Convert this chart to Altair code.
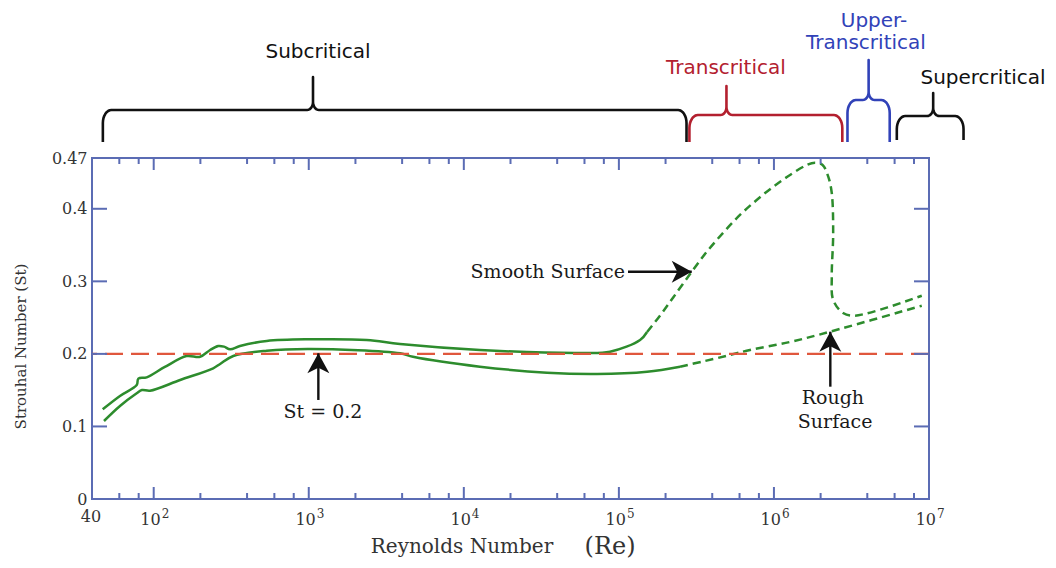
import numpy as np
import pandas as pd
import altair as alt

# ---------------- data ----------------
# upper curve (solid part, becomes "Smooth Surface")
smooth_solid_re = [46.9, 60.6, 77.7, 79.6, 90.1, 118, 163, 199, 231, 261, 284, 311, 360,
                   536, 1020, 2360, 3880, 12700, 56200, 87700, 137000, 152000]
smooth_solid_st = [0.1236, 0.142, 0.157, 0.166, 0.1677, 0.182, 0.197, 0.196, 0.2054, 0.2109,
                   0.210, 0.2063, 0.2109, 0.2178, 0.2201, 0.2192, 0.2136, 0.2054, 0.2012,
                   0.2030, 0.2192, 0.2302]
# smooth surface, dashed part
smooth_dash_re = [152000, 184000, 224000, 295000, 368000, 472000, 604000, 774000, 991000,
                  1.27e6, 1.63e6, 1.84e6, 2.06e6, 2.24e6, 2.36e6, 2.41e6, 2.36e6, 2.41e6,
                  2.79e6, 3.33e6, 8.98e6]
smooth_dash_st = [0.2302, 0.2526, 0.2777, 0.3133, 0.3405, 0.3673, 0.3915, 0.4121, 0.4305,
                  0.4466, 0.4604, 0.4635, 0.4604, 0.4443, 0.4218, 0.3666, 0.3064, 0.2743,
                  0.2564, 0.2527, 0.2802]
# lower curve (solid part, becomes "Rough Surface")
rough_solid_re = [47.8, 60.6, 77.7, 84.0, 94.7, 148, 242, 268, 326, 536, 1020, 3880, 4700,
                  12700, 34400, 72300, 152000, 248000]
rough_solid_st = [0.1075, 0.1282, 0.1457, 0.1502, 0.1493, 0.1640, 0.1802, 0.1861, 0.1971,
                  0.2044, 0.2068, 0.2008, 0.1961, 0.1824, 0.1741, 0.1723, 0.1755, 0.1824]
# rough surface, dashed part
rough_dash_re = [248000, 359000, 521000, 701000, 1.27e6, 2.30e6, 8.98e6]
rough_dash_st = [0.1824, 0.1902, 0.1985, 0.2054, 0.2164, 0.2306, 0.2664]

st_reference = [0.2]

# axes
x_major_ticks = [1e2, 1e3, 1e4, 1e5, 1e6]
x_minor_ticks = [60, 80, 200, 400, 600, 800, 2e3, 4e3, 6e3, 8e3, 2e4, 4e4, 6e4, 8e4,
                 2e5, 4e5, 6e5, 8e5, 2e6, 4e6, 6e6, 8e6]
x_label_values = [1e2, 1e3, 1e4, 1e5, 1e6, 1e7]
x_label_base = ["10", "10", "10", "10", "10", "10"]
x_label_exp = ["2", "3", "4", "5", "6", "7"]
x_first_label = ["40"]
x_first_value = [40]
y_major_ticks = [0.1, 0.2, 0.3, 0.4]
y_label_values = [0, 0.1, 0.2, 0.3, 0.4, 0.47]

# flow regimes (brackets above the plot)
regime_names = ["Subcritical", "Transcritical", "Upper-Transcritical", "Supercritical"]
regime_start_re = [47, 2.85e5, 2.98e6, 6.2e6]
regime_end_re = [2.73e5, 2.76e6, 5.58e6, 1.67e7]
regime_peak_re = [1065, 4.94e5, 4.08e6, 1.064e7]
bracket_base_st = [0.4921, 0.4921, 0.4921, 0.4948]
bracket_bar_st = [0.5362, 0.5293, 0.55, 0.5279]
bracket_tip_st = [0.5817, 0.5693, 0.6051, 0.5596]

regime_label_text = ["Subcritical", "Transcritical", "Upper-", "Transcritical", "Supercritical"]
regime_label_group = ["Subcritical", "Transcritical", "Upper-Transcritical",
                      "Upper-Transcritical", "Supercritical"]
regime_label_re = [1147, 4.9e5, 4.42e6, 3.92e6, 2.23e7]
regime_label_st = [0.6161, 0.594, 0.6589, 0.6285, 0.5803]

# annotations
arrow_tip_re = [1153, 2.95e5, 2.31e6]
arrow_tip_st = [0.2008, 0.3133, 0.2306]
arrow_tail_re = [1153, 1.145e5, 2.31e6]
arrow_tail_st = [0.1365, 0.3133, 0.1548]
arrow_angle = [0, 90, 0]

note_text = ["St = 0.2", "Rough", "Surface"]
note_re = [1236, 2.40e6, 2.48e6]
note_st = [0.1203, 0.1392, 0.1066]
smooth_note = ["Smooth Surface"]

x_title_text = ["Reynolds Number"]
x_title_re = [9730]
x_title_sub = ["(Re)"]
x_title_sub_re = [87660]
x_title_st = [-0.0665]

# ---------------- styles ----------------
W, H = 837, 341
SERIF = "DejaVu Serif"
SANS = "DejaVu Sans"
FRAME = "#5b6cb4"
GREEN = "#2d8c2d"
RED = "#e0573d"
REGIME_COLORS = ["#111111", "#b3202f", "#3142b8", "#111111"]

xs = alt.Scale(type="log", domain=[40, 1e7], nice=False)
ys = alt.Scale(domain=[0, 0.47], nice=False, zero=False)
yaxis = alt.Axis(values=y_label_values, format=".2~f", ticks=False, domain=False, grid=False,
                 labelFont=SERIF, labelFontSize=16, labelColor="#333", labelPadding=5,
                 labelFlush=False, title="Strouhal Number (St)", titleFont=SERIF,
                 titleFontSize=15, titleFontWeight="normal", titleColor="#333",
                 titleX=-72, titleY=188, titleAngle=270, titleAlign="center",
                 titleBaseline="middle")


def X(f="re"):
    return alt.X(f"{f}:Q", scale=xs, axis=None)


def Y(f="st"):
    return alt.Y(f"{f}:Q", scale=ys, axis=yaxis)


def curve_df(re_list, st_list, name):
    return pd.DataFrame({"re": re_list, "st": st_list, "curve": name,
                         "i": range(len(re_list))})


solid_df = pd.concat([curve_df(smooth_solid_re, smooth_solid_st, "smooth"),
                      curve_df(rough_solid_re, rough_solid_st, "rough")])
dash_df = pd.concat([curve_df(smooth_dash_re, smooth_dash_st, "smooth"),
                     curve_df(rough_dash_re, rough_dash_st, "rough")])


def bracket_path(a, b, c, yb, yh, yt, rx=0.055, ry=0.018, sx=0.038, sy=0.011, n=9):
    la, lb, lc = np.log10(a), np.log10(b), np.log10(c)
    pts = [(la, yb)]
    for t in np.linspace(np.pi, np.pi / 2, n):
        pts.append((la + rx + rx * np.cos(t), yh - ry + ry * np.sin(t)))
    for t in np.linspace(1.5 * np.pi, 2 * np.pi, n):
        pts.append((lc - sx + sx * np.cos(t), yh + sy + sy * np.sin(t)))
    pts.append((lc, yt))
    for t in np.linspace(np.pi, 1.5 * np.pi, n):
        pts.append((lc + sx + sx * np.cos(t), yh + sy + sy * np.sin(t)))
    for t in np.linspace(np.pi / 2, 0, n):
        pts.append((lb - rx + rx * np.cos(t), yh - ry + ry * np.sin(t)))
    pts.append((lb, yb))
    return pts


rows = []
for k, nm in enumerate(regime_names):
    pts = bracket_path(regime_start_re[k], regime_end_re[k], regime_peak_re[k],
                       bracket_base_st[k], bracket_bar_st[k], bracket_tip_st[k])
    for j, (lx, yv) in enumerate(pts):
        rows.append({"re": 10 ** lx, "st": yv, "name": nm, "i": j})
bracket_df = pd.DataFrame(rows)

regime_color = alt.Color("name:N", scale=alt.Scale(domain=regime_names, range=REGIME_COLORS),
                         legend=None)

# ---------------- layers ----------------
solid = alt.Chart(solid_df).mark_line(color=GREEN, strokeWidth=2.5, interpolate="catmull-rom",
                                      clip=True).encode(
    x=X(), y=Y(), detail="curve:N", order="i:Q")
dashed = alt.Chart(dash_df).mark_line(color=GREEN, strokeWidth=2.5, strokeDash=[8, 5],
                                      interpolate="catmull-rom", clip=True).encode(
    x=X(), y=Y(), detail="curve:N", order="i:Q")
ref = alt.Chart(pd.DataFrame({"st": st_reference})).mark_rule(
    color=RED, strokeWidth=2.2, strokeDash=[18, 8]).encode(y=Y())

xmaj = pd.DataFrame({"re": x_major_ticks})
xmin = pd.DataFrame({"re": x_minor_ticks})
ymaj = pd.DataFrame({"st": y_major_ticks})
tick_style = dict(color=FRAME, strokeWidth=2)
ticks = [
    alt.Chart(xmaj).mark_rule(**tick_style).encode(x=X(), y=alt.value(H), y2=alt.value(H - 12)),
    alt.Chart(xmaj).mark_rule(**tick_style).encode(x=X(), y=alt.value(0), y2=alt.value(12)),
    alt.Chart(xmin).mark_rule(**tick_style).encode(x=X(), y=alt.value(H), y2=alt.value(H - 6)),
    alt.Chart(xmin).mark_rule(**tick_style).encode(x=X(), y=alt.value(0), y2=alt.value(6)),
    alt.Chart(ymaj).mark_rule(**tick_style).encode(y=Y(), x=alt.value(0), x2=alt.value(15)),
    alt.Chart(ymaj).mark_rule(**tick_style).encode(y=Y(), x=alt.value(W), x2=alt.value(W - 15)),
]

xlab_df = pd.DataFrame({"re": x_label_values, "b": x_label_base, "e": x_label_exp})
xlabels_base = alt.Chart(xlab_df).mark_text(
    font=SERIF, fontSize=16, color="#333", baseline="alphabetic", align="right", dx=7).encode(
    x=X(), y=alt.value(H + 26), text="b:N")
xlabels_exp = alt.Chart(xlab_df).mark_text(
    font=SERIF, fontSize=12, color="#333", baseline="alphabetic", align="left", dx=8).encode(
    x=X(), y=alt.value(H + 19), text="e:N")
xlabel0 = alt.Chart(pd.DataFrame({"re": x_first_value, "t": x_first_label})).mark_text(
    font=SERIF, fontSize=16, color="#333", baseline="alphabetic", align="center", dx=-1).encode(
    x=X(), y=alt.value(H + 23), text="t:N")

xtitle1 = alt.Chart(pd.DataFrame({"re": x_title_re, "st": x_title_st, "t": x_title_text})).mark_text(
    font=SERIF, fontSize=20, color="#333", baseline="middle", align="center").encode(
    x=X(), y=Y(), text="t:N")
xtitle2 = alt.Chart(pd.DataFrame({"re": x_title_sub_re, "st": x_title_st, "t": x_title_sub})).mark_text(
    font=SERIF, fontSize=24, color="#333", baseline="middle", align="center").encode(
    x=X(), y=Y(), text="t:N")

brackets = alt.Chart(bracket_df).mark_line(strokeWidth=2.6, clip=False, strokeJoin="round").encode(
    x=X(), y=Y(), color=regime_color, order="i:Q")
bracket_labels = alt.Chart(pd.DataFrame({"re": regime_label_re, "st": regime_label_st,
                                         "t": regime_label_text, "name": regime_label_group})).mark_text(
    font=SANS, fontSize=20, baseline="middle", align="center").encode(
    x=X(), y=Y(), text="t:N", color=regime_color)

arrow_df = pd.DataFrame({"re": arrow_tail_re, "st": arrow_tail_st,
                         "re2": arrow_tip_re, "st2": arrow_tip_st, "ang": arrow_angle})
shafts = alt.Chart(arrow_df).mark_rule(color="#111", strokeWidth=2.4).encode(
    x=X(), y=Y(), x2="re2:Q", y2="st2:Q")
heads = alt.Chart(arrow_df).mark_point(
    shape="M0,0 L1.1,2 L0,1.45 L-1.1,2 Z", size=400, filled=True, color="#111",
    opacity=1, strokeWidth=0).encode(
    x=X("re2"), y=Y("st2"), angle=alt.Angle("ang:Q", scale=None))

notes = alt.Chart(pd.DataFrame({"re": note_re, "st": note_st, "t": note_text})).mark_text(
    font=SERIF, fontSize=19, color="#1a1a1a", baseline="middle", align="center").encode(
    x=X(), y=Y(), text="t:N")
smooth_label = alt.Chart(pd.DataFrame({"re": [arrow_tail_re[1]], "st": [arrow_tail_st[1]],
                                       "t": smooth_note})).mark_text(
    font=SERIF, fontSize=19, color="#1a1a1a", baseline="middle", align="right", dx=-3).encode(
    x=X(), y=Y(), text="t:N")

chart = alt.layer(
    solid, dashed, ref, *ticks, xlabels_base, xlabels_exp, xlabel0, xtitle1, xtitle2,
    brackets, bracket_labels, shafts, heads, notes, smooth_label
).properties(
    width=W, height=H,
    padding={"left": 84, "top": 150, "right": 119, "bottom": 61},
    autosize=alt.AutoSizeParams(type="none"),
    background="white",
).configure_view(stroke=FRAME, strokeWidth=2)

chart.save("out.html", embed_options={"renderer": "svg", "actions": False})
